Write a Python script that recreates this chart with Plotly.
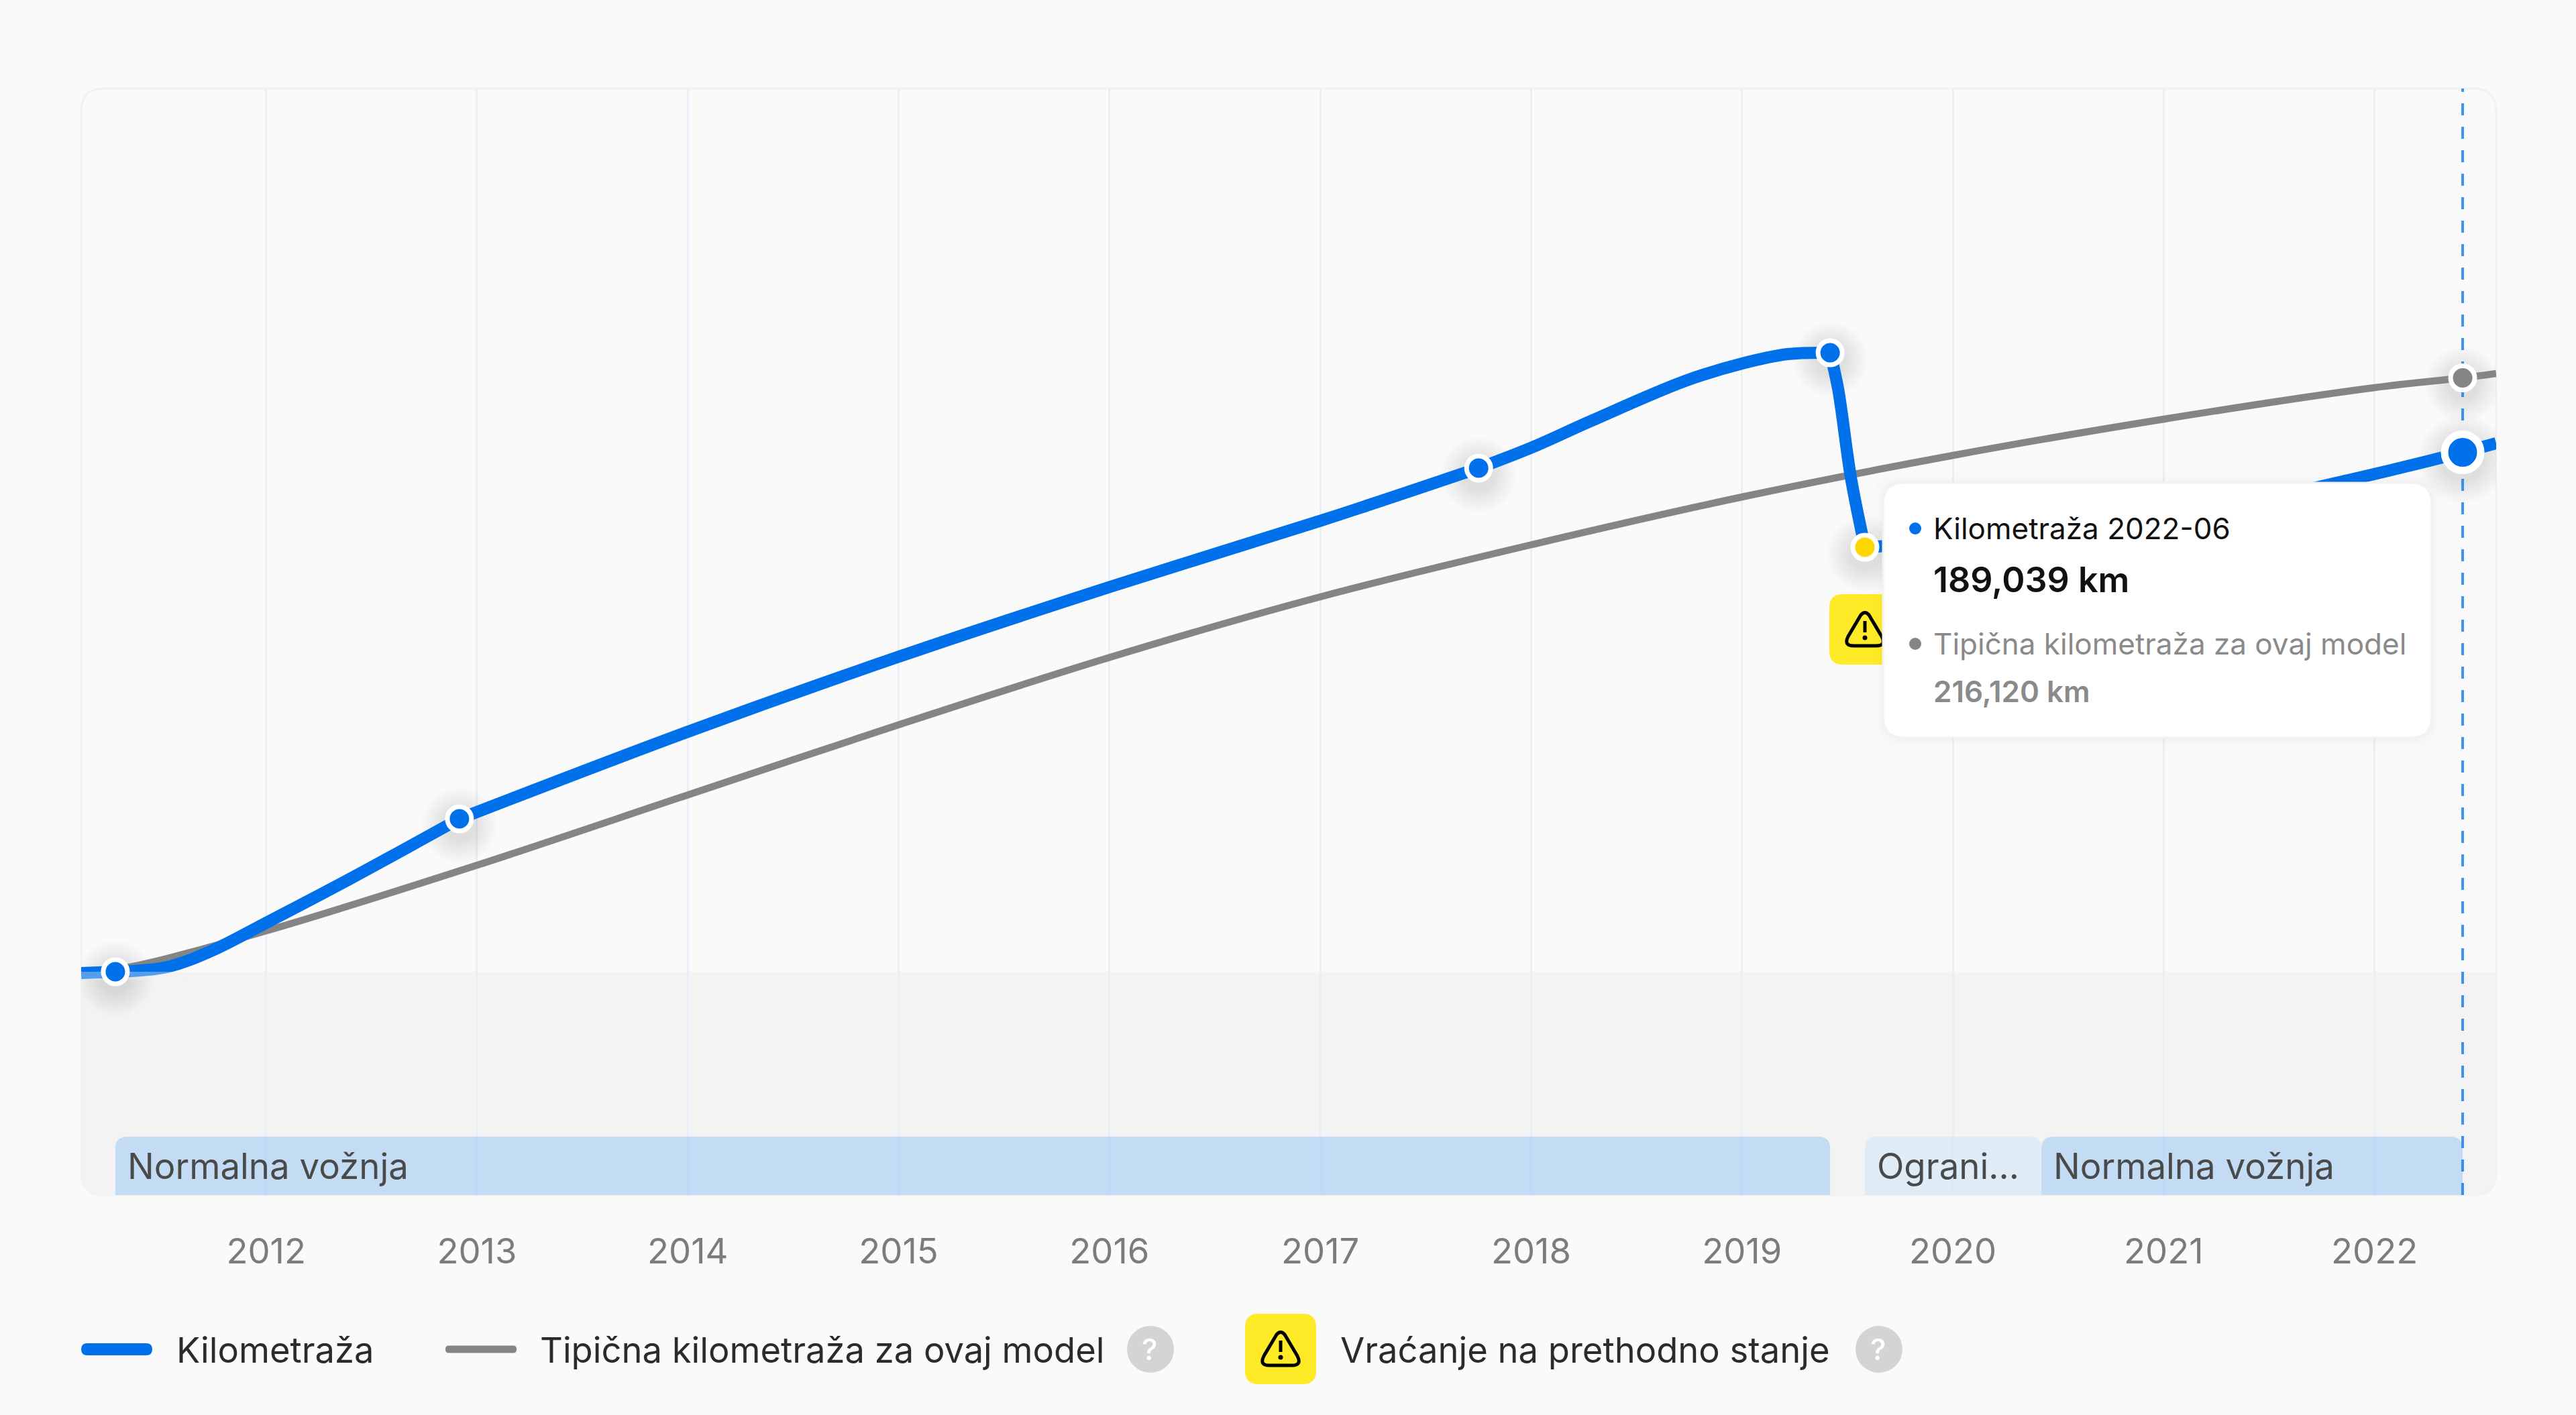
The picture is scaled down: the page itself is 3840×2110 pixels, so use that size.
import plotly.graph_objects as go

FONT = "Inter"
BLUE = "#0071eb"
GRAY = "#858585"
YELLOW = "#ffea28"

# values (x = decimal year, y = km)
km_years = [2011.123, 2011.285, 2011.530, 2011.740, 2012.001, 2012.389, 2012.917,
            2014.004, 2014.998, 2016.004, 2017.000, 2017.751, 2018.005, 2018.282,
            2018.731, 2019.001, 2019.217, 2019.418, 2019.456, 2019.517, 2019.583, 2020.283,
            2021.078, 2021.902, 2022.418, 2022.577]
km_values = [-490, 0, 1709, 7567, 17819, 33439, 55650,
             87454, 114571, 140102, 164095, 183304, 190871, 200390,
             215034, 221381, 224798, 225286, 212106, 179643, 154503, 158408,
             165730, 179399, 189039, 192335]

typical_years = [2011.123, 2011.352, 2012.001, 2013.002, 2014.004, 2014.998, 2016.004, 2017.000,
                 2018.005, 2019.001, 2020.002, 2021.001, 2022.000, 2022.418, 2022.577]
typical_values = [-370, 1709, 14889, 38809, 64437, 89821, 114474, 136441,
                  155479, 172809, 187942, 201122, 212594, 216120, 217719]

record_years = [2011.285, 2012.917, 2017.751, 2019.418]
record_values = [0, 55650, 183304, 225286]
rollback_year = 2019.583
rollback_value = 154503
current_year = 2022.418
current_km = 189039
current_typical = 216120

periods = [("Normalna vožnja", 2011.285, 2019.418, "rgba(86,170,250,0.3)"),
           ("Ograni...", 2019.583, 2020.420, "rgba(180,223,255,0.3)"),
           ("Normalna vožnja", 2020.420, 2022.418, "rgba(86,170,250,0.3)")]

year_ticks = list(range(2012, 2023))

x_range = [2011.123, 2022.577]
y_range = [-81279, 321453]

# figure pixels of the plot area
L, R, T, B = 121, 3721, 132, 1782
per_year = (R - L) / (x_range[1] - x_range[0])
per_km = (B - T) / (y_range[1] - y_range[0])

PIXEL_PLOT = dict(xref="paper", yref="paper", xsizemode="pixel", ysizemode="pixel", xanchor=0, yanchor=0)


def round_rect(x0, y0, x1, y1, r):
    # y goes up, same as plotly pixel shapes
    return (f"M{x0 + r},{y0} L{x1 - r},{y0} Q{x1},{y0} {x1},{y0 + r} L{x1},{y1 - r} Q{x1},{y1} {x1 - r},{y1} "
            f"L{x0 + r},{y1} Q{x0},{y1} {x0},{y1 - r} L{x0},{y0 + r} Q{x0},{y0} {x0 + r},{y0} Z")


def fig_shape(path, **kw):
    # path given relative to the plot's bottom left corner, in pixels
    return dict(type="path", path=path, **PIXEL_PLOT, **kw)


def dot(kw, cx, cy, r, colour):
    return dict(type="circle", x0=cx - r, x1=cx + r, y0=cy - r, y1=cy + r, fillcolor=colour, line_width=0, **kw)


def warning_shapes(kw, cx, cy):
    out = [dict(type="path", path=round_rect(cx - 53, cy - 53, cx + 53, cy + 52, 20),
                fillcolor=YELLOW, line_width=0, **kw),
           dict(type="path", line=dict(color="#000000", width=5), **kw,
                path=(f"M{cx - 6},{cy + 21} Q{cx},{cy + 28} {cx + 6},{cy + 21} L{cx + 25},{cy - 11} "
                      f"Q{cx + 32},{cy - 25} {cx + 17},{cy - 25} L{cx - 17},{cy - 25} "
                      f"Q{cx - 32},{cy - 25} {cx - 25},{cy - 11} Z")),
           dict(type="path", line=dict(color="#000000", width=5), **kw,
                path=f"M{cx},{cy + 12} L{cx},{cy - 5}"),
           dot(kw, cx, cy - 13, 3.5, "#000000")]
    return out


def shadow(x, y, r0):
    # no blur in plotly, so a stack of faint circles
    out = []
    for i in range(9):
        r = r0 + 34 - i * 4
        out.append(dict(type="circle", layer="between", xref="x", yref="y", xsizemode="pixel", ysizemode="pixel",
                        xanchor=x, yanchor=y, x0=-r, x1=r, y0=-10 - r, y1=-10 + r,
                        fillcolor="rgba(0,0,0,0.012)", line_width=0))
    return out


def note(text, X, Y, size, color, weight=400):
    return dict(text=text, x=(X - 3 - L) / (R - L), y=(B - Y) / (B - T), xref="paper", yref="paper", showarrow=False,
                xanchor="left", yanchor="middle", font=dict(family=FONT, size=size, color=color, weight=weight))


fig = go.Figure()

fig.add_trace(go.Scatter(x=typical_years, y=typical_values, mode="lines",
                         line=dict(color=GRAY, width=10.5, shape="spline")))

# the line is drawn piece by piece between the marked records, the curve breaks at them
breaks = [km_years.index(y) for y in record_years + [rollback_year]]
starts = [0] + breaks
ends = breaks + [len(km_years) - 1]
for a, b in zip(starts, ends):
    fig.add_trace(go.Scatter(x=km_years[a:b + 1], y=km_values[a:b + 1], mode="lines",
                             line=dict(color=BLUE, width=18, shape="spline")))

fig.add_trace(go.Scatter(x=[current_year, current_year], y=y_range, mode="lines",
                         line=dict(color="rgba(0,113,235,0.75)", width=4, dash="18px,17px")))
fig.add_trace(go.Scatter(x=record_years, y=record_values, mode="markers",
                         marker=dict(color=BLUE, size=36, line=dict(color="white", width=7))))
fig.add_trace(go.Scatter(x=[rollback_year], y=[rollback_value], mode="markers",
                         marker=dict(color="#ffd500", size=36, line=dict(color="white", width=7))))
fig.add_trace(go.Scatter(x=[current_year], y=[current_typical], mode="markers",
                         marker=dict(color=GRAY, size=36, line=dict(color="white", width=7))))
fig.add_trace(go.Scatter(x=[current_year], y=[current_km], mode="markers",
                         marker=dict(color=BLUE, size=54, line=dict(color="white", width=11))))

shapes = []

# panel and the band under zero
w, h = R - L, B - T
shapes.append(fig_shape(round_rect(0, 0, w, h, 34), layer="below", fillcolor="#fafafa",
                        line=dict(color="#f1f1f1", width=3)))
zero_h = (0 - y_range[0]) * per_km
band = (f"M34,0 L{w - 34},0 Q{w},0 {w},34 L{w},{zero_h} L0,{zero_h} L0,34 Q0,0 34,0 Z")
shapes.append(fig_shape(band, layer="below", fillcolor="#f3f3f3", line_width=0))

# band sits over the line in the original, lighter under zero next to the first point
for x0, x1 in [(x_range[0], 2011.22), (2011.35, 2011.62)]:
    shapes.append(dict(type="rect", xref="x", yref="y", x0=x0, x1=x1, y0=-3000, y1=0,
                       fillcolor="rgba(243,243,243,0.35)", line_width=0))

# driving periods
rx = 18 / per_year
ry = 18 / per_km
bar_top = -60044
for label, start, end, colour in periods:
    shapes.append(dict(type="path", xref="x", yref="y", layer="between", fillcolor=colour, line_width=0,
                       path=(f"M{start},{y_range[0]} L{start},{bar_top - ry} Q{start},{bar_top} {start + rx},{bar_top} "
                             f"L{end - rx},{bar_top} Q{end},{bar_top} {end},{bar_top - ry} L{end},{y_range[0]} Z")))

for x, y in zip(record_years, record_values):
    shapes += shadow(x, y, 22)
shapes += shadow(rollback_year, rollback_value, 22)
shapes += shadow(current_year, current_typical, 22)
shapes += shadow(current_year, current_km, 32)

# warning badge under the rollback point
shapes += warning_shapes(dict(xref="x", yref="y", xsizemode="pixel", ysizemode="pixel",
                              xanchor=rollback_year, yanchor=rollback_value), 0, -122)

# tooltip
for grow, alpha in [(14, 0.006), (8, 0.008), (4, 0.01)]:
    shapes.append(fig_shape(round_rect(2807 - L - grow, B - 1100 - grow, 3625 - L + grow, B - 720 + grow, 34),
                            fillcolor=f"rgba(0,0,0,{alpha})", line_width=0))
shapes.append(fig_shape(round_rect(2807 - L, B - 1100, 3625 - L, B - 720, 32), fillcolor="white",
                        line=dict(color="#f2f2f2", width=3)))
shapes.append(dot(PIXEL_PLOT, 2855 - L, B - 788, 9, BLUE))
shapes.append(dot(PIXEL_PLOT, 2855 - L, B - 960, 9, GRAY))

# legend
shapes.append(fig_shape(round_rect(121 - L, B - 2021, 227 - L, B - 2003, 9), fillcolor=BLUE, line_width=0))
shapes.append(fig_shape(round_rect(664 - L, B - 2017.5, 770 - L, B - 2006.5, 5), fillcolor=GRAY, line_width=0))
shapes.append(dot(PIXEL_PLOT, 1715 - L, B - 2012, 35, "#d4d4d4"))
shapes.append(dot(PIXEL_PLOT, 2801 - L, B - 2012, 35, "#d4d4d4"))
shapes += warning_shapes(PIXEL_PLOT, 1909 - L, B - 2011)

annotations = []
for label, start, end, colour in periods:
    annotations.append(dict(text=label, x=start, y=(bar_top + y_range[0]) / 2, xref="x", yref="y", showarrow=False,
                            xanchor="left", yanchor="middle", xshift=16,
                            font=dict(family=FONT, size=52.8, color="#4a4a4a")))

annotations.append(note("Kilometraža 2022-06", 2883, 788, 44, "#111111"))
annotations.append(note(f"{current_km:,} km", 2883, 864, 52, "#111111", 600))
annotations.append(note("Tipična kilometraža za ovaj model", 2883, 960, 44, "#8a8a8a"))
annotations.append(note(f"{current_typical:,} km", 2883, 1031, 44, "#8a8a8a", 600))

annotations.append(note("Kilometraža", 264, 2013, 52.5, "#2b2b2b"))
annotations.append(note("Tipična kilometraža za ovaj model", 806, 2013, 52.5, "#2b2b2b"))
annotations.append(note("Vraćanje na prethodno stanje", 1999, 2013, 52.5, "#2b2b2b"))
annotations.append(note("?", 1703, 2012, 44, "white", 500))
annotations.append(note("?", 2789, 2012, 44, "white", 500))

fig.update_layout(
    width=3840,
    height=2110,
    margin=dict(l=L, r=3840 - R, t=T, b=2110 - B, pad=0),
    paper_bgcolor="#fafafa",
    plot_bgcolor="rgba(0,0,0,0)",
    showlegend=False,
    hovermode=False,
    shapes=shapes,
    annotations=annotations,
)
fig.update_xaxes(range=x_range, tickvals=year_ticks, ticktext=[str(y) for y in year_ticks],
                 showgrid=True, gridcolor="#e8eff8", gridwidth=3, zeroline=False, showline=False,
                 ticks="outside", ticklen=38, tickcolor="rgba(0,0,0,0)",
                 tickfont=dict(family=FONT, size=52.5, color="#7c7c7c"))
fig.update_yaxes(range=y_range, showgrid=False, zeroline=False, showticklabels=False, showline=False)

fig.write_html("out.html", config=dict(displayModeBar=False), post_script="document.body.style.margin='0';")
